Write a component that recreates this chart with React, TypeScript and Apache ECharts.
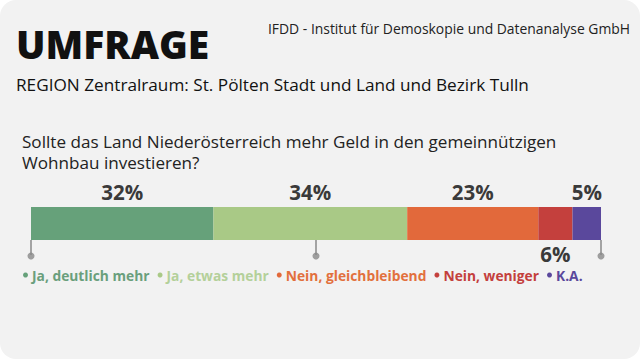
import React, { useEffect, useRef } from "react";
import * as echarts from "echarts";

const categories = ["Frage"];
const seriesNames = ["Ja, deutlich mehr", "Ja, etwas mehr", "Nein, gleichbleibend", "Nein, weniger", "K.A."];
const seriesValues = [32, 34, 23, 6, 5];
const seriesColors = ["#66a17a", "#a9c986", "#e2693b", "#c4403d", "#5a489c"];
const legendTextColors = ["#6a9f7c", "#b4d09a", "#e2703d", "#c4403d", "#5a489c"];
const labelPositions = ["top", "top", "top", "bottom", "top"];
const tickValues = [0, 50, 100];

const FONT = "'Open Sans', sans-serif";

export default function App() {
  const ref = useRef<HTMLDivElement>(null);
  useEffect(() => {
    if (!ref.current) return;
    const chart = echarts.init(ref.current, null, { renderer: "svg" });
    chart.setOption({
      animation: false,
      backgroundColor: "transparent",
      textStyle: { fontFamily: FONT },
      graphic: [
        { type: "text", left: 16, top: 24, style: { text: "UMFRAGE", font: `800 39px ${FONT}`, fill: "#111" } },
        { type: "text", right: 10, top: 21, style: { text: "IFDD - Institut für Demoskopie und Datenanalyse GmbH", font: `400 13.9px ${FONT}`, fill: "#222" } },
        { type: "text", left: 16, top: 76, style: { text: "REGION Zentralraum: St. Pölten Stadt und Land und Bezirk Tulln", font: `500 17.2px ${FONT}`, fill: "#111" } },
        { type: "text", left: 22, top: 131, style: { text: "Sollte das Land Niederösterreich mehr Geld in den gemeinnützigen\nWohnbau investieren?", font: `400 17.1px ${FONT}`, lineHeight: 21, fill: "#222" } },
      ],
      legend: {
        left: 18,
        top: 263,
        icon: "circle",
        itemWidth: 5,
        itemHeight: 5,
        itemGap: 8,
        selectedMode: false,
        data: seriesNames.map((n, i) => ({
          name: n,
          textStyle: { color: legendTextColors[i], fontWeight: 700, fontSize: 13.8, fontFamily: FONT, padding: [0, 0, 0, -1] },
        })),
      },
      grid: [
        { left: 31, right: 39, top: 207, height: 33 },
        { left: 31, right: 39, top: 255, height: 1 },
      ],
      xAxis: [
        {
          gridIndex: 0,
          type: "value",
          min: 0,
          max: 100,
          interval: 50,
          axisLine: { show: false },
          axisLabel: { show: false },
          splitLine: { show: false },
          axisTick: { show: true, length: 15, lineStyle: { color: "#888", width: 1.5 } },
        },
        {
          gridIndex: 1,
          type: "value",
          min: 0,
          max: 100,
          show: false,
        },
      ],
      yAxis: [
        { gridIndex: 0, type: "category", data: categories, show: false },
        { gridIndex: 1, type: "value", min: 0, max: 1, show: false },
      ],
      series: [
        ...seriesNames.map((n, i) => ({
          name: n,
          type: "bar",
          stack: "total",
          xAxisIndex: 0,
          yAxisIndex: 0,
          barWidth: 33,
          data: [seriesValues[i]],
          itemStyle: { color: seriesColors[i] },
          label: {
            show: true,
            position: labelPositions[i],
            distance: labelPositions[i] === "top" ? 5 : 3,
            formatter: "{c}%",
            fontSize: 20.5,
            fontWeight: 700,
            fontFamily: FONT,
            color: "#3a3a3a",
          },
        })),
        {
          type: "scatter",
          xAxisIndex: 1,
          yAxisIndex: 1,
          symbolSize: 7,
          data: tickValues.map((v) => [v, 0]),
          itemStyle: { color: "#888" },
          silent: true,
        },
      ],
    });
    return () => chart.dispose();
  }, []);
  return (
    <div style={{ position: "absolute", left: 0, top: 0, width: 640, height: 359, background: "#fff" }}>
      <div style={{ width: 640, height: 359, background: "#f2f2f2", borderRadius: 16 }}>
        <div ref={ref} style={{ width: 640, height: 359 }} />
      </div>
    </div>
  );
}
